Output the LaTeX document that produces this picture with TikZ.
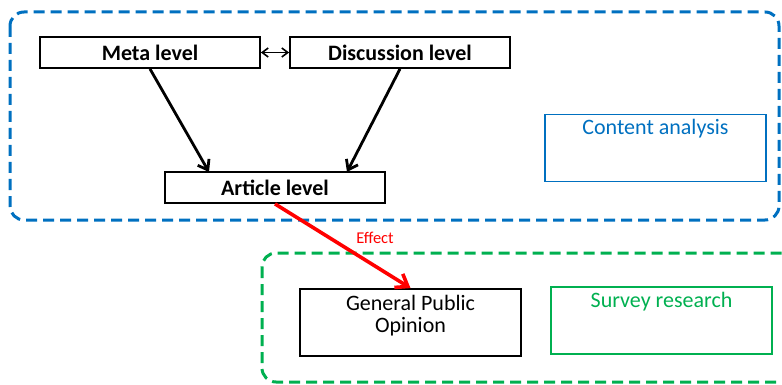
\documentclass[tikz,border=0pt]{standalone}
\usepackage{fontspec}
\setmainfont{Carlito}
\usetikzlibrary{arrows.meta}
\definecolor{boxblue}{RGB}{0,112,192}
\definecolor{boxgreen}{RGB}{0,176,80}
\definecolor{effred}{RGB}{255,0,0}
\tikzset{
  levelbox/.style={draw=black, line width=1.8pt, minimum width=220pt, minimum height=31pt,
    inner sep=0pt, font=\fontsize{22}{24}\selectfont\bfseries},
  methodbox/.style={draw, line width=1.8pt, minimum width=221pt, minimum height=67pt, inner sep=0pt},
  methodlabel/.style={anchor=north, inner sep=0pt, font=\fontsize{22}{21.5}\selectfont},
  region/.style={line width=3pt, dash pattern=on 11pt off 6pt, rounded corners=14pt},
  flow/.style={line width=2.8pt, -{Straight Barb[length=9pt,width=13pt,line width=2.8pt]}},
}
\begin{document}
\begin{tikzpicture}[x=1pt,y=-1pt]
\useasboundingbox (0,0) rectangle (782,385);

% dashed regions
\draw[region, boxblue] (10,12) rectangle (779,220);
\draw[region, boxgreen] (262,253) rectangle (800,382);

% levels of analysis
\node[levelbox] (meta) at (150,52.5) {Meta level};
\node[levelbox] (disc) at (400,52.5) {Discussion level};
\node[levelbox] (art) at (275,187.5) {Article level};

% arrow ends on the top edge of the article box
\coordinate (artL) at (209,172);
\coordinate (artR) at (347,172);

\draw[line width=1.6pt, {Straight Barb[length=6pt,width=9pt]}-{Straight Barb[length=6pt,width=9pt]}]
  (meta.east) -- (disc.west);
\draw[flow] (meta.south) -- (artL);
\draw[flow] (disc.south) -- (artR);

% method boxes
\node[methodbox, draw=boxblue] (content) at (655.5,148) {};
\node[methodlabel, text=boxblue] (contentlbl) at ([yshift=-5pt]content.north) {Content analysis};

\node[methodbox, draw=black] (public) at (410.5,322.5) {};
\node[methodlabel, align=center] (publiclbl) at ([yshift=-7pt]public.north) {General Public\\Opinion};

\node[methodbox, draw=boxgreen] (survey) at (661.5,320.5) {};
\node[methodlabel, text=boxgreen] (surveylbl) at ([yshift=-6pt]survey.north) {Survey research};

% effect of articles on public opinion
\draw[line width=3.6pt, effred, -{Straight Barb[length=11pt,width=16pt,line width=3.6pt]}]
  (art.south) -- (public.north);
\node[text=effred, inner sep=0pt, font=\fontsize{16.5}{18}\selectfont] (efflbl) at (375,238) {Effect};
\end{tikzpicture}
\end{document}
